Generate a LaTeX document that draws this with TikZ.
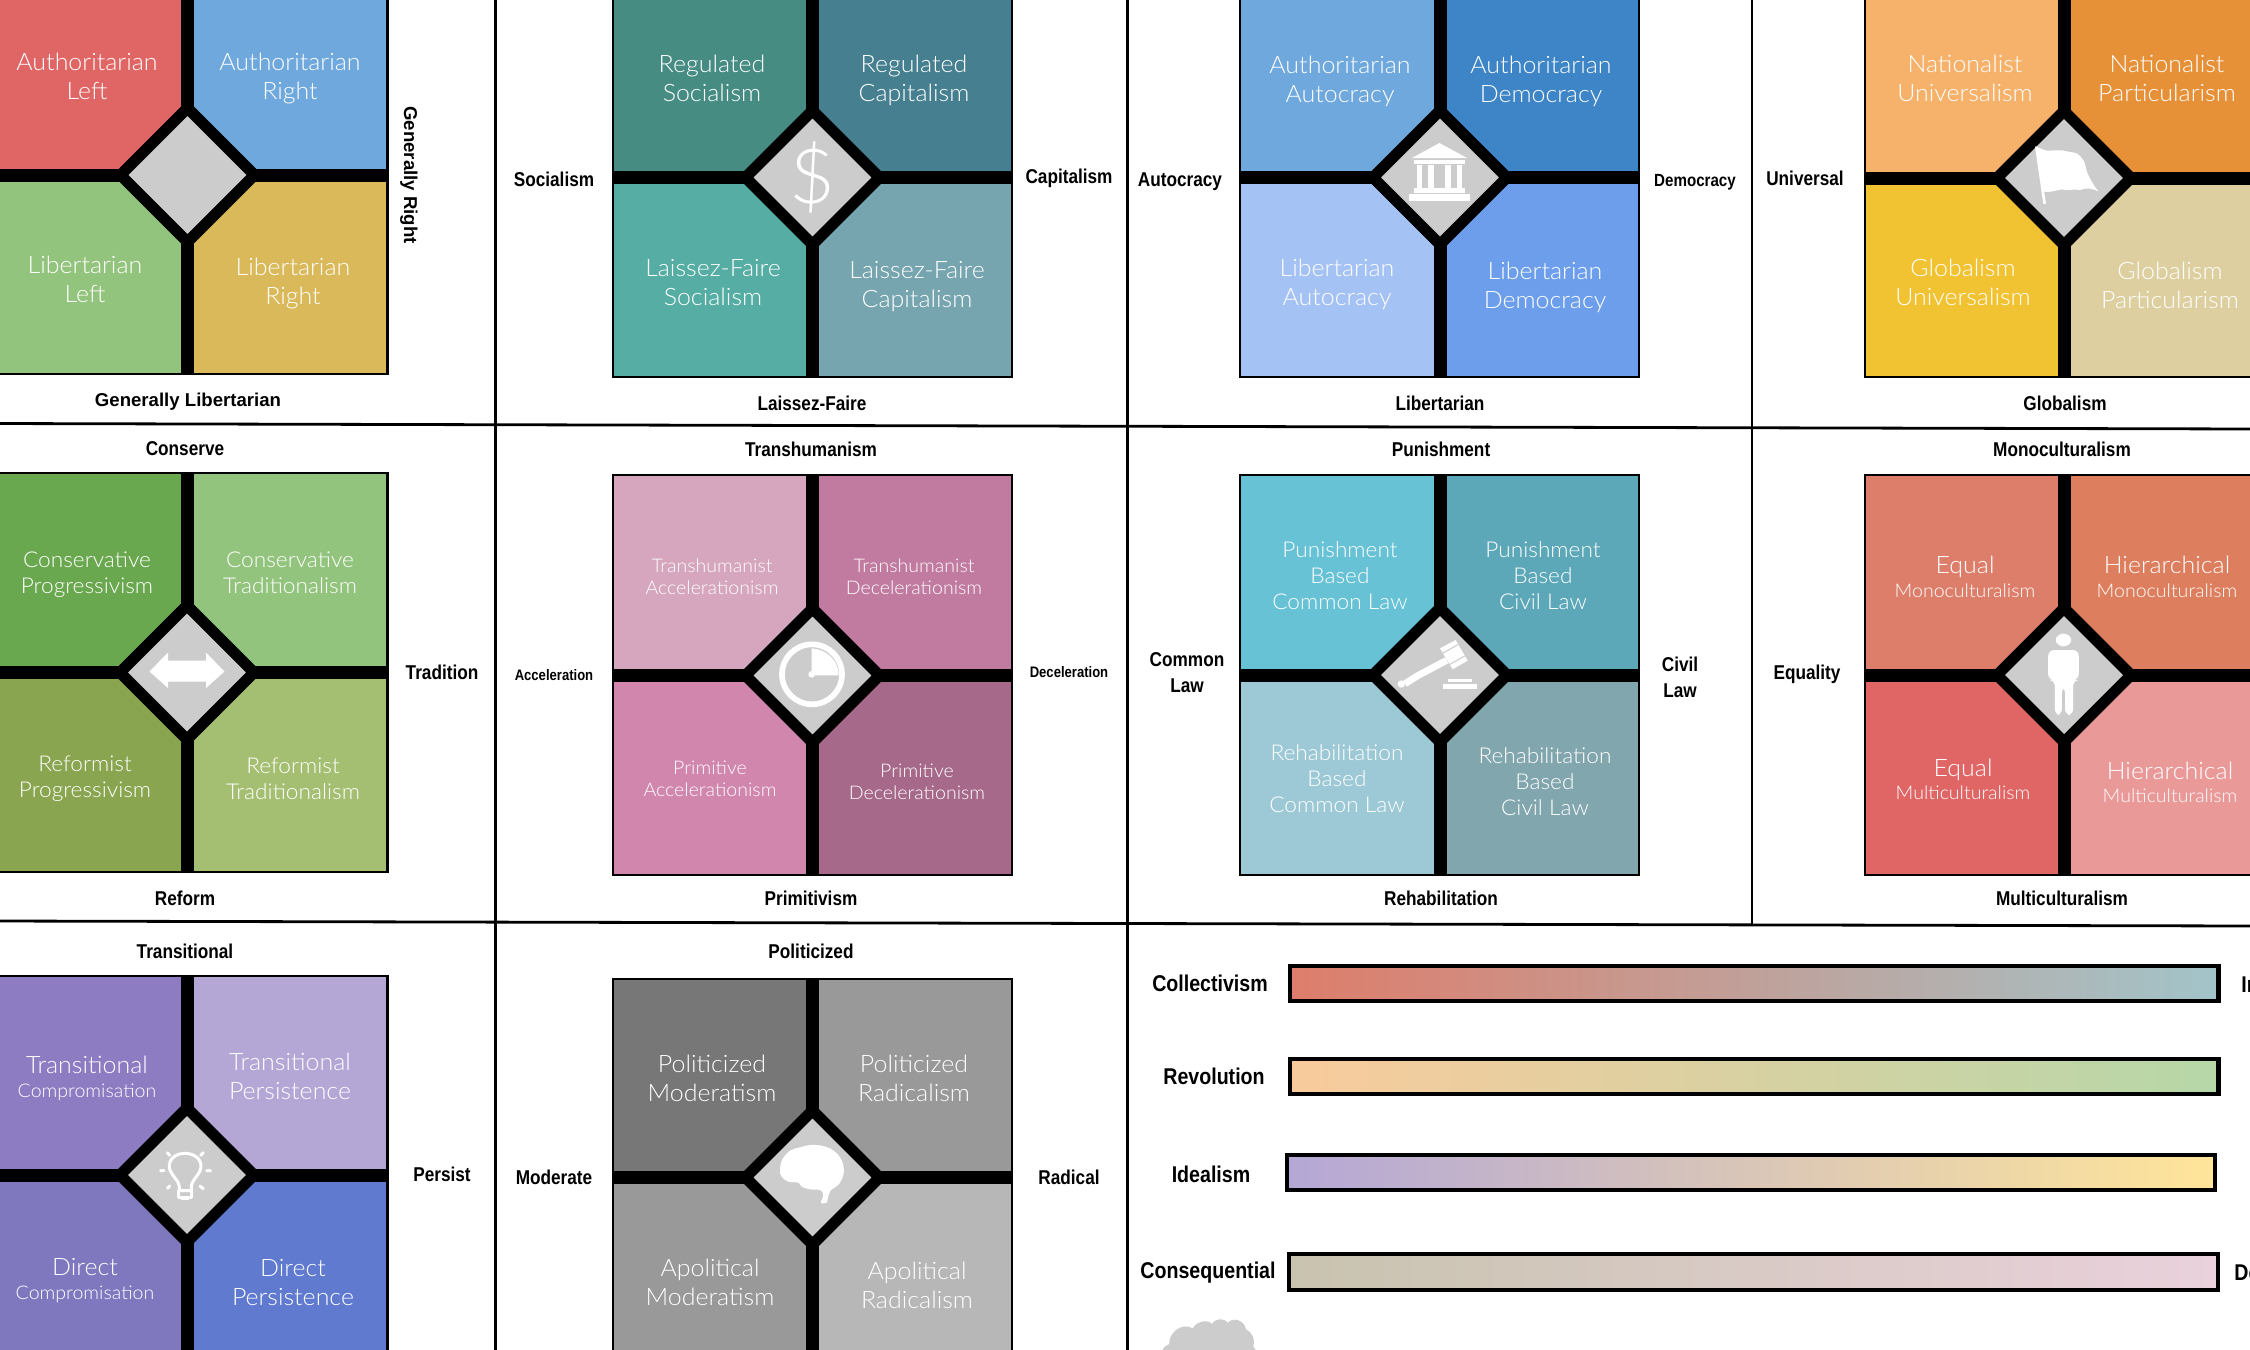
\documentclass[tikz,border=0pt]{standalone}
\usepackage{fontspec}
\setmainfont{Lato Light}[FakeStretch=1.04]
\newfontfamily\labf{Liberation Sans}[FakeStretch=0.86]
\newfontfamily\labw{Liberation Sans}
\definecolor{a1}{HTML}{E06666}\definecolor{a2}{HTML}{6FA8DC}\definecolor{a3}{HTML}{93C47D}\definecolor{a4}{HTML}{DAB95B}
\definecolor{b1}{HTML}{468C82}\definecolor{b2}{HTML}{467F8F}\definecolor{b3}{HTML}{56ADA3}\definecolor{b4}{HTML}{76A5AF}
\definecolor{c1}{HTML}{6FA8DC}\definecolor{c2}{HTML}{3D85C6}\definecolor{c3}{HTML}{A4C2F4}\definecolor{c4}{HTML}{6D9EEB}
\definecolor{d1}{HTML}{F6B26B}\definecolor{d2}{HTML}{E69138}\definecolor{d3}{HTML}{F1C232}\definecolor{d4}{HTML}{DDCFA0}
\definecolor{e1}{HTML}{6AA84F}\definecolor{e2}{HTML}{93C47D}\definecolor{e3}{HTML}{89A54F}\definecolor{e4}{HTML}{A5BF72}
\definecolor{f1}{HTML}{D5A6BD}\definecolor{f2}{HTML}{C27BA0}\definecolor{f3}{HTML}{D186AD}\definecolor{f4}{HTML}{A6698A}
\definecolor{g1}{HTML}{67C2D6}\definecolor{g2}{HTML}{5DA8B8}\definecolor{g3}{HTML}{9DC9D6}\definecolor{g4}{HTML}{82A6AE}
\definecolor{h1}{HTML}{DD7E6B}\definecolor{h2}{HTML}{DD7E5E}\definecolor{h3}{HTML}{E06666}\definecolor{h4}{HTML}{EA9999}
\definecolor{i1}{HTML}{8E7CC3}\definecolor{i2}{HTML}{B4A7D6}\definecolor{i3}{HTML}{8078BF}\definecolor{i4}{HTML}{5F7ACF}
\definecolor{j1}{HTML}{777777}\definecolor{j2}{HTML}{999999}\definecolor{j3}{HTML}{999999}\definecolor{j4}{HTML}{B7B7B7}
\definecolor{dia}{HTML}{CCCCCC}
\definecolor{s1a}{HTML}{DE7D6B}\definecolor{s1b}{HTML}{A2C4C9}
\definecolor{s2a}{HTML}{F9CB9C}\definecolor{s2b}{HTML}{B6D7A8}
\definecolor{s3a}{HTML}{B4A7D6}\definecolor{s3b}{HTML}{FFE599}
\definecolor{s4a}{HTML}{C8C3AF}\definecolor{s4b}{HTML}{EAD1DC}
\tikzset{
  barline/.style={line width=6.5pt,black},
  frameline/.style={line width=1.35pt,black},
  gridline/.style={line width=1.4pt,black},
  diam/.style={fill=dia,draw=black,line width=5.5pt,miter limit=10},
  qt/.style={text=white,align=center,inner sep=0pt,font=\fontsize{12}{14.5}\selectfont},
  qs/.style={text=white,align=center,inner sep=0pt,font=\fontsize{9.4}{10.8}\selectfont},
  qm/.style={text=white,align=center,inner sep=0pt,font=\fontsize{10.9}{13}\selectfont},
  lb/.style={align=center,inner sep=0pt,font=\labf\bfseries\fontsize{10}{13}\selectfont},
  lbs/.style={align=center,inner sep=0pt,font=\labf\bfseries\fontsize{7.6}{9}\selectfont},
  lbm/.style={align=center,inner sep=0pt,font=\labf\bfseries\fontsize{8.8}{10}\selectfont},
  lbw/.style={align=center,inner sep=0pt,font=\labw\bfseries\fontsize{9.3}{11}\selectfont},
  lbb/.style={align=center,inner sep=0pt,font=\labf\bfseries\fontsize{11.4}{13}\selectfont},
  sbar/.style={line width=2.1pt,draw=black,shading angle=90},
  ico/.style={fill=white,draw=none},
  thinw/.style={draw=white,line width=1.5pt,line cap=round,line join=round},
}
\newcommand\panel[6]{\def\pl{#1}\def\pt{#2}\def\pr{#3}\def\pb{#4}\def\pcx{#5}\def\pcy{#6}\panelB}
\newcommand\panelB[4]{%
  \fill[#1] (\pl,\pt) rectangle (\pcx,\pcy);
  \fill[#2] (\pcx,\pt) rectangle (\pr,\pcy);
  \fill[#3] (\pl,\pcy) rectangle (\pcx,\pb);
  \fill[#4] (\pcx,\pcy) rectangle (\pr,\pb);
  \draw[barline] (\pcx,\pt) -- (\pcx,\pb);
  \draw[barline] (\pl,\pcy) -- (\pr,\pcy);
  \draw[frameline] (\pl,\pt) rectangle (\pr,\pb);
  \begin{scope}[shift={(\pcx,\pcy)}]
    \draw[diam] (0,-67) -- (67,0) -- (0,67) -- (-67,0) -- cycle;
  \end{scope}}
\begin{document}
\begin{tikzpicture}[x=0.5pt,y=-0.5pt]
\useasboundingbox (0,0) rectangle (2250,1350);
\begin{scope}
\clip (0,0) rectangle (2250,1350);
\fill[white] (0,0) rectangle (2250,1350);
% panels
\panel{-20}{-30}{387.5}{374}{187.5}{175}{a1}{a2}{a3}{a4}
\panel{613}{-30}{1012}{377}{812.5}{177.5}{b1}{b2}{b3}{b4}
\panel{1240}{-30}{1639}{377}{1440}{177.5}{c1}{c2}{c3}{c4}
\panel{1865}{-30}{2280}{377}{2064}{178}{d1}{d2}{d3}{d4}
\panel{-20}{473}{387.5}{872}{187}{672.5}{e1}{e2}{e3}{e4}
\panel{613}{475}{1012}{875}{812.5}{675.5}{f1}{f2}{f3}{f4}
\panel{1240}{475}{1639}{875}{1440}{675}{g1}{g2}{g3}{g4}
\panel{1865}{475}{2280}{875}{2064}{675}{h1}{h2}{h3}{h4}
\panel{-20}{976}{387.5}{1400}{187}{1175}{i1}{i2}{i3}{i4}
\panel{613}{979}{1012}{1400}{812.5}{1177.5}{j1}{j2}{j3}{j4}
% grid
\coordinate (gh1a) at (-5,423.5); \coordinate (gh1b) at (2255,429);
\coordinate (gh2a) at (-5,921); \coordinate (gh2b) at (2255,926);
\coordinate (gv1a) at (495.5,-5); \coordinate (gv1b) at (495.5,1355);
\coordinate (gv2a) at (1127.5,-5); \coordinate (gv2b) at (1127.5,1355);
\coordinate (gv3a) at (1752,-5); \coordinate (gv3b) at (1752,925);
\draw[gridline] (gh1a) -- (gh1b);
\draw[gridline] (gh2a) -- (gh2b);
\draw[gridline] (gv1a) -- (gv1b);
\draw[gridline] (gv2a) -- (gv2b);
\draw[gridline] (gv3a) -- (gv3b);
% quad text row 1
\node[qt] (t11) at (87,76) {Authoritarian\\Left};
\node[qt] (t12) at (290,78) {Authoritarian\\Right};
\node[qt] (t13) at (85,279) {Libertarian\\Left};
\node[qt] (t14) at (293,283.5) {Libertarian\\Right};
\node[qt] (t21) at (712,78) {Regulated\\Socialism};
\node[qt] (t22) at (914,80) {Regulated\\Capitalism};
\node[qt] (t23) at (713,283) {Laissez-Faire\\Socialism};
\node[qt] (t24) at (917,287) {Laissez-Faire\\Capitalism};
\node[qt] (t31) at (1340,81) {Authoritarian\\Autocracy};
\node[qt] (t32) at (1541,81) {Authoritarian\\Democracy};
\node[qt] (t33) at (1337,284) {Libertarian\\Autocracy};
\node[qt] (t34) at (1545,287) {Libertarian\\Democracy};
\node[qt] (t41) at (1965,78) {Nationalist\\Universalism};
\node[qt] (t42) at (2167,78) {Nationalist\\Particularism};
\node[qt] (t43) at (1963,282.5) {Globalism\\Universalism};
\node[qt] (t44) at (2170,285.5) {Globalism\\Particularism};
% row 2
\node[qm] (t51) at (87,574.5) {Conservative\\Progressivism};
\node[qm] (t52) at (290,573) {Conservative\\Traditionalism};
\node[qm] (t53) at (85,779) {Reformist\\Progressivism};
\node[qm] (t54) at (293,779) {Reformist\\Traditionalism};
\node[qs] (t61) at (712,577) {Transhumanist\\Accelerationism};
\node[qs] (t62) at (914,577) {Transhumanist\\Decelerationism};
\node[qs] (t63) at (710,779) {Primitive\\Accelerationism};
\node[qs] (t64) at (917,782) {Primitive\\Decelerationism};
\node[qm] (t71) at (1340,576) {Punishment\\Based\\Common Law};
\node[qm] (t72) at (1543,576) {Punishment\\Based\\Civil Law};
\node[qm] (t73) at (1337,779) {Rehabilitation\\Based\\Common Law};
\node[qm] (t74) at (1545,782) {Rehabilitation\\Based\\Civil Law};
\node[qt] (t81a) at (1965,566.5) {Equal};
\node[qs] (t81b) at (1965,591) {Monoculturalism};
\node[qt] (t82a) at (2167,565) {Hierarchical};
\node[qs] (t82b) at (2167,591) {Monoculturalism};
\node[qt] (t83a) at (1963,769.5) {Equal};
\node[qs] (t83b) at (1963,793) {Multiculturalism};
\node[qt] (t84a) at (2170,771) {Hierarchical};
\node[qs] (t84b) at (2170,796) {Multiculturalism};
% row 3
\node[qt] (t91a) at (87,1065) {Transitional};
\node[qs] (t91b) at (87,1092.5) {Compromisation};
\node[qt] (t92) at (290,1076) {Transitional\\Persistence};
\node[qt] (t93a) at (85,1267) {Direct};
\node[qs] (t93b) at (85,1294.5) {Compromisation};
\node[qt] (t94) at (293,1282.5) {Direct\\Persistence};
\node[qt] (t01) at (712,1078) {Politicized\\Moderatism};
\node[qt] (t02) at (914,1078) {Politicized\\Radicalism};
\node[qt] (t03) at (710,1282.5) {Apolitical\\Moderatism};
\node[qt] (t04) at (917,1285.5) {Apolitical\\Radicalism};
% axis labels
\node[lbw,rotate=-90] (l1) at (409,175) {Generally Right};
\node[lbw] (l2) at (188,402) {Generally Libertarian};
\node[lb] (l3) at (554,179.5) {Socialism};
\node[lb] (l4) at (1069,178) {Capitalism};
\node[lb] (l5) at (1180,182) {Autocracy};
\node[lbm] (l6) at (1695,182) {Democracy};
\node[lb] (l7) at (1805,178) {Universal};
\node[lb] (l8) at (812,403) {Laissez-Faire};
\node[lb] (l9) at (1440,403) {Libertarian};
\node[lb] (l10) at (2065,403) {Globalism};
\node[lb] (l11) at (185,449) {Conserve};
\node[lb] (l12) at (811,449) {Transhumanism};
\node[lb] (l13) at (1441,449) {Punishment};
\node[lb] (l14) at (2062,449) {Monoculturalism};
\node[lb] (l15) at (442,672) {Tradition};
\node[lbs] (l16) at (554,675) {Acceleration};
\node[lbs] (l17) at (1069,672) {Deceleration};
\node[lb] (l18) at (1187,673) {Common\\Law};
\node[lb] (l19) at (1680,677) {Civil\\Law};
\node[lb] (l20) at (1807,674) {Equality};
\node[lb] (l21) at (185,898) {Reform};
\node[lb] (l22) at (811,898) {Primitivism};
\node[lb] (l23) at (1441,898) {Rehabilitation};
\node[lb] (l24) at (2062,898) {Multiculturalism};
\node[lb] (l25) at (185,951) {Transitional};
\node[lb] (l26) at (811,951) {Politicized};
\node[lb] (l27) at (442,1174) {Persist};
\node[lb] (l28) at (554,1177) {Moderate};
\node[lb] (l29) at (1069,1177) {Radical};
% spectrum bars
\node[lbb] (s1) at (1210,983) {Collectivism};
\node[lbb] (s2) at (1214,1076) {Revolution};
\node[lbb] (s3) at (1211,1174) {Idealism};
\node[lbb] (s4) at (1208,1273) {Consequential};
\node[lbb,anchor=west] (s1r) at (2241,985) {In};
\node[lbb,anchor=west] (s4r) at (2234,1273) {De};
\draw[sbar,left color=s1a,right color=s1b] (1290,966) rectangle (2218.5,1001);
\draw[sbar,left color=s2a,right color=s2b] (1290,1059) rectangle (2218.5,1094);
\draw[sbar,left color=s3a,right color=s3b] (1287,1155) rectangle (2215,1190);
\draw[sbar,left color=s4a,right color=s4b] (1289,1254) rectangle (2218,1290);
% icons
% dollar
\node[text=white,inner sep=0pt,font=\fontsize{38}{38}\selectfont] (dollar) at (812.5,177) {\$};
% temple
\fill[ico] (1412,158) -- (1439.5,143) -- (1467,158) -- cycle;
\fill[ico] (1414,160) rectangle (1465,164);
\fill[ico] (1417,165) rectangle (1422,188);
\fill[ico] (1428,165) rectangle (1434,188);
\fill[ico] (1445,165) rectangle (1451,188);
\fill[ico] (1457,165) rectangle (1462,188);
\fill[ico] (1414,188) rectangle (1465,193);
\fill[ico] (1409,194) rectangle (1470,201);
% flag
\begin{scope}[shift={(1950,80)},xscale=0.3333,yscale=0.3333]
\fill[ico] (255,200) -- (262,200) -- (288,372) -- (280,372) -- cycle;
\fill[ico] (258,200) .. controls (275,205) and (280,212) .. (295,212) .. controls (315,212) and (330,208) .. (350,214) .. controls (365,218) and (380,215) .. (390,228) .. controls (400,240) and (405,245) .. (408,265) .. controls (412,285) and (430,315) .. (445,334) .. controls (425,325) and (410,322) .. (390,330) .. controls (370,325) and (350,335) .. (335,328) .. controls (315,332) and (300,338) .. (280,335) -- cycle;
\end{scope}
% double arrow
\fill[ico] (149.5,671.5) -- (168,652.5) -- (168,660.5) -- (206,660.5) -- (206,652.5) -- (224.5,671.5) -- (206,688) -- (206,681.5) -- (168,681.5) -- (168,688) -- cycle;
% clock
\begin{scope}[shift={(755,620)},xscale=0.3333,yscale=0.3333]
\draw[white,line width=2.85pt] (171,163) ellipse [x radius=90,y radius=90];
\fill[ico] (170,85) .. controls (215,88) and (248,120) .. (251,160) -- (251,166) -- (170,166) -- cycle;
\fill[ico] (170,163) ellipse [x radius=10,y radius=10];
\end{scope}
% gavel
\begin{scope}[shift={(1380,620)},xscale=0.3333,yscale=0.3333]
\fill[ico] (180,85) -- (227,60) -- (263,122) -- (218,148) -- cycle;
\draw[dia,line width=0.5pt] (187,100) -- (234,74) (208,134) -- (254,108);
\fill[ico] (195,112) -- (205,130) -- (120,175) -- (80,200) -- (70,182) -- (110,157) -- cycle;
\fill[ico] (64,192) ellipse [x radius=11,y radius=11];
\fill[ico] (205,177) rectangle (277,187);
\fill[ico] (190,191) rectangle (292,208);
\end{scope}
% person
\begin{scope}[shift={(1340,560)},xscale=0.5102,yscale=0.3333]
\fill[ico] (1418,240) ellipse [x radius=15,y radius=19];
\fill[ico,rounded corners=3pt] (1388,270) -- (1448,270) -- (1448,360) -- (1437,360) -- (1437,465) -- (1421,465) -- (1421,380) -- (1415,380) -- (1415,465) -- (1401,465) -- (1401,360) -- (1388,360) -- cycle;
\end{scope}
% bulb
\begin{scope}[shift={(130,1120)},xscale=0.3333,yscale=0.3333]
\draw[thinw] (148,212) -- (148,200) .. controls (145,175) and (118,165) .. (118,138) .. controls (118,115) and (140,100) .. (165,100) .. controls (190,100) and (213,115) .. (213,138) .. controls (213,165) and (186,175) .. (184,200) -- (184,212) -- cycle;
\draw[thinw] (146,212) -- (146,233) -- (186,233) -- (186,212);
\fill[ico] (154,232) rectangle (178,240);
\draw[thinw] (112,98) -- (119,106) (220,98) -- (212,106) (92,152) -- (102,152) (230,152) -- (242,152) (112,205) -- (119,198) (220,206) -- (210,198);
\end{scope}
% brain
\begin{scope}[shift={(730,1110)},xscale=0.3333,yscale=0.3333]
\fill[ico] plot[smooth cycle,tension=0.6] coordinates {(150,182) (156,150) (180,122) (210,112) (240,105) (270,106) (300,115) (325,135) (340,165) (340,195) (325,225) (303,240) (294,262) (290,278) (273,278) (280,255) (270,240) (240,238) (215,230) (205,218) (175,215) (155,200)};
\end{scope}
% cloud
\begin{scope}[shift={(1140,1300)},xscale=0.3333,yscale=0.3333]
\fill[dia] (65,155) .. controls (70,142) and (78,135) .. (88,132) .. controls (85,100) and (125,65) .. (158,85) .. controls (170,62) and (205,58) .. (216,72) .. controls (228,52) and (255,55) .. (263,68) .. controls (280,50) and (312,60) .. (318,88) .. controls (335,95) and (348,120) .. (340,140) .. controls (345,145) and (348,150) .. (350,160) -- cycle;
\end{scope}
\end{scope}
\end{tikzpicture}
\end{document}
